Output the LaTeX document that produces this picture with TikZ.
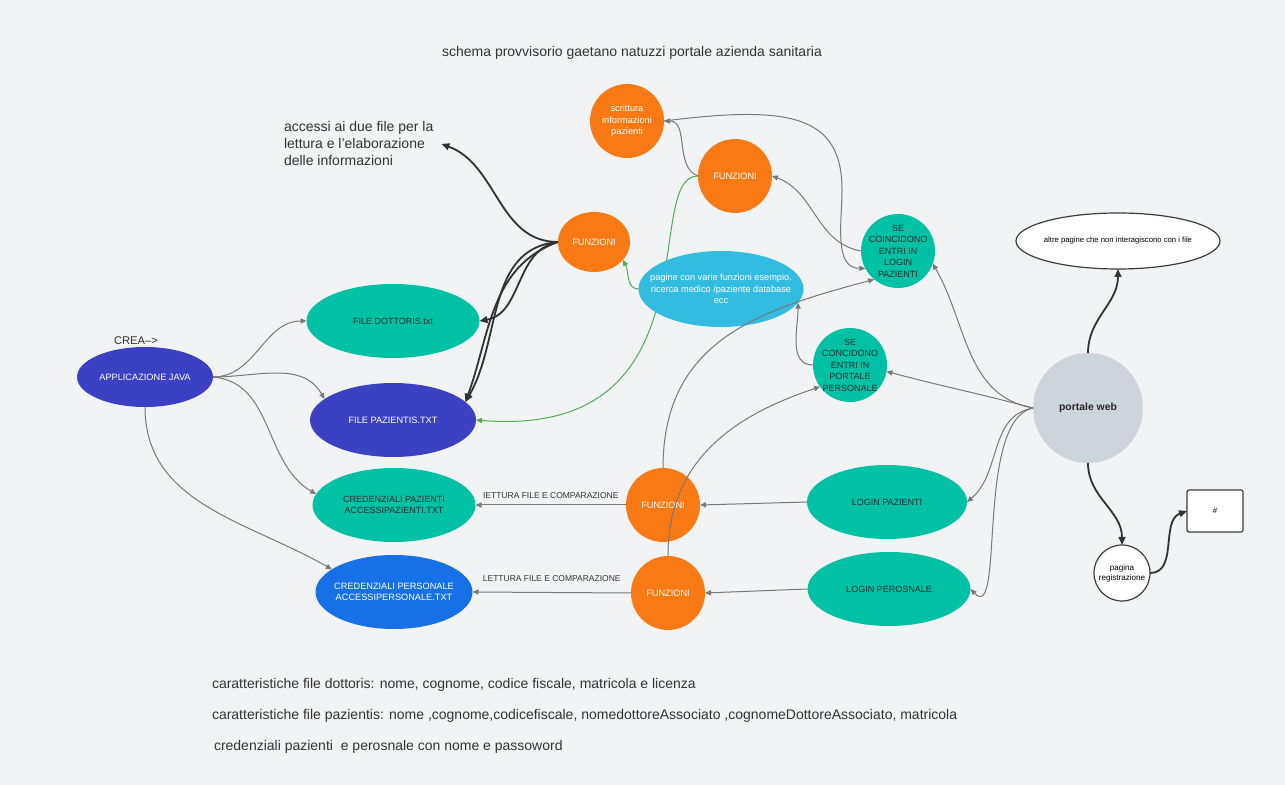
\documentclass[tikz,border=0pt]{standalone}
\usepackage{fontspec}
\setsansfont{Liberation Sans}
\usetikzlibrary{shapes.geometric,arrows.meta}
\begin{document}
\begin{tikzpicture}[x=.5pt,y=-.5pt,
  every node/.style={inner sep=0pt,outer sep=0pt},
  note/.style={text={rgb,255:red,51;green,51;blue,51},font=\sffamily\fontsize{7}{8.5}\selectfont},
  orb/.style={circle,minimum size=37pt},
  orangebox/.style={fill={rgb,255:red,249;green,122;blue,20}},
  tealbox/.style={fill={rgb,255:red,0;green,192;blue,166}},
  indigobox/.style={fill={rgb,255:red,60;green,64;blue,195}},
  bluebox/.style={fill={rgb,255:red,22;green,112;blue,230}},
  cyanbox/.style={fill={rgb,255:red,50;green,188;blue,224}},
  whitebox/.style={fill=white,draw={rgb,255:red,60;green,60;blue,60},line width=0.6pt},
  lightw/.style={text=white,align=center,font=\sffamily\fontsize{4.6}{5.7}\selectfont},
  darkw/.style={text={rgb,255:red,32;green,48;blue,48},align=center,font=\sffamily\fontsize{4.5}{5.75}\selectfont},
  edgetxt/.style={text={rgb,255:red,51;green,51;blue,51},font=\sffamily\fontsize{4.25}{5}\selectfont},
  wire/.style={draw={rgb,255:red,120;green,120;blue,120},line width=0.5pt,-{Triangle[length=3pt,width=2.6pt]}},
  heavy/.style={draw={rgb,255:red,50;green,50;blue,50},line width=0.9pt,-{Triangle[length=4pt,width=3.4pt]}},
  greenwire/.style={draw={rgb,255:red,76;green,175;blue,80},line width=0.5pt,-{Triangle[length=3pt,width=2.6pt]}}]
\path[use as bounding box,fill={rgb,255:red,242;green,243;blue,245}] (0,0) rectangle (1285,785);
\node[note,anchor=base,font=\sffamily\fontsize{7}{8.4}\selectfont] (title) at (632,57) {schema provvisorio gaetano natuzzi portale azienda sanitaria};
\node[note,align=left,anchor=west,inner sep=4pt] (acc) at (276,144) {accessi ai due file per la\\lettura e l'elaborazione\\delle informazioni};
\node[note,anchor=base,font=\sffamily\fontsize{5.6}{6.5}\selectfont] (crea) at (136,345) {CREA-->};
\node[orb,orangebox,label={[lightw]center:scrittura\\informazioni\\pazienti}] (sc) at (627,121) {};
\node[orb,orangebox,label={[lightw]center:FUNZIONI}] (ft) at (735,176) {};
\node[ellipse,orangebox,minimum width=36pt,minimum height=30pt,label={[lightw]center:FUNZIONI}] (fl) at (594,242) {};
\node[orb,tealbox,label={[darkw]center:SE\\COINCIDONO\\ENTRI IN\\LOGIN\\PAZIENTI}] (slp) at (898,251) {};
\node[ellipse,whitebox,minimum width=102pt,minimum height=28pt,label={[text=black,font=\sffamily\fontsize{3.85}{4.5}\selectfont]center:altre pagine che non interagiscono con i file}] (ap) at (1118,241) {};
\node[orb,tealbox,label={[darkw]center:SE\\CONCIDONO\\ENTRI IN\\PORTALE\\PERSONALE}] (spp) at (850,365) {};
\node[circle,minimum size=55pt,fill={rgb,255:red,206;green,212;blue,220},label={[text={rgb,255:red,40;green,40;blue,40},font=\sffamily\bfseries\fontsize{5.2}{6}\selectfont]center:portale web}] (pw) at (1088,408) {};
\node[ellipse,tealbox,minimum width=86.5pt,minimum height=37pt,label={[darkw]center:FILE DOTTORIS.txt}] (fd) at (393,321) {};
\node[ellipse,indigobox,minimum width=68pt,minimum height=30pt,label={[lightw]center:APPLICAZIONE JAVA}] (java) at (145,377) {};
\node[ellipse,indigobox,minimum width=83pt,minimum height=37pt,label={[lightw]center:FILE PAZIENTIS.TXT}] (fp) at (393,420) {};
\node[ellipse,tealbox,minimum width=81.5pt,minimum height=37pt,label={[darkw]center:CREDENZIALI PAZIENTI\\ACCESSIPAZIENTI.TXT}] (cpz) at (394,505) {};
\node[ellipse,bluebox,minimum width=78.5pt,minimum height=37pt,label={[lightw]center:CREDENZIALI PERSONALE\\ACCESSIPERSONALE.TXT}] (cps) at (394,592) {};
\node[orb,orangebox,label={[lightw]center:FUNZIONI}] (fm) at (663,505) {};
\node[orb,orangebox,label={[lightw]center:FUNZIONI}] (fb) at (668,593) {};
\node[ellipse,tealbox,minimum width=80pt,minimum height=37pt,label={[darkw]center:LOGIN PAZIENTI}] (lpz) at (887,502) {};
\node[ellipse,tealbox,minimum width=81.5pt,minimum height=37pt,label={[darkw]center:LOGIN PEROSNALE}] (lps) at (889,589) {};
\node[circle,whitebox,minimum size=28pt,label={[text=black,align=center,font=\sffamily\fontsize{4.05}{5}\selectfont]center:pagina\\registrazione}] (pr) at (1122,573) {};
\node[rectangle,whitebox,rounded corners=1pt,minimum width=28pt,minimum height=21pt,label={[text=black,font=\sffamily\fontsize{4}{5}\selectfont]center:\#}] (hs) at (1215,511) {};
\node[note,anchor=base west] (n1) at (212,689) {caratteristiche file dottoris: nome, cognome, codice fiscale, matricola e licenza};
\node[note,anchor=base west] (n2) at (212,719) {caratteristiche file pazientis: nome ,cognome,codicefiscale, nomedottoreAssociato ,cognomeDottoreAssociato, matricola};
\node[note,anchor=base west] (n3) at (214,750) {credenziali pazienti\ \ e perosnale con nome e passoword};
\draw[greenwire] (ft.west) .. controls (640,176) and (720,440) .. (fp.east);
\node[ellipse,cyanbox,minimum width=82.5pt,minimum height=38pt,label={[lightw]center:pagine con varie funzioni esempio.\\ricerca medico /paziente database\\ecc}] (pg) at (721,289) {};
\draw[greenwire] (pg.west) to[out=180,in=-60] (fl.-32);
\draw[wire] (java.east) to[out=0,in=180] (fd.west);
\draw[wire] (java.east) to[out=0,in=120] (fp.163);
\draw[wire] (java.east) to[out=-5,in=150] (cpz.172);
\draw[wire] (java.south) to[out=-90,in=150] (cps.160);
\draw[heavy] (fl.west) to[out=180,in=-20] (acc.east);
\draw[heavy] (fl.west) to[out=190,in=10] (fd.east);
\draw[heavy] (fl.west) to[out=200,in=70] (fp.14);
\draw[heavy] (fl.west) to[out=185,in=60] (fp.14);
\draw[wire] (ft.west) to[out=160,in=0] (sc.east);
\draw[wire] (sc.east) .. controls (790,105) and (842,115) .. (842,190) to[out=-90,in=180] (slp.208);
\draw[wire] (slp.west) to[out=170,in=-20] (ft.east);
\draw[wire] (pw.west) to[out=170,in=-60] (slp.-20);
\draw[wire] (pw.west) to[out=165,in=-15] (spp.-10);
\draw[wire] (pw.west) to[out=190,in=40] (lpz.east);
\draw[wire] (pw.west) .. controls (975,420) and (1005,625) .. (lps.east);
\draw[heavy] (pw.north) to[out=90,in=-90] (ap.south);
\draw[heavy] (pw.south) to[out=-90,in=90] (pr.north);
\draw[heavy] (pr.east) to[out=0,in=200] (hs.west);
\draw[wire] (spp.west) to[out=180,in=-90] (pg.-10);
\draw[wire] (lpz.west) -- (fm.east);
\draw[wire] (lps.west) -- (fb.east);
\draw[wire] (fm.west) -- node[edgetxt,above=3pt] (lt1) {IETTURA FILE E COMPARAZIONE} (cpz.east);
\draw[wire] (fb.west) -- node[edgetxt,above=5.5pt] (lt2) {LETTURA FILE E COMPARAZIONE} (cps.east);
\draw[wire] (fm.north) .. controls (663,340) and (760,310) .. (slp.230);
\draw[wire] (fb.north) .. controls (668,470) and (720,420) .. (spp.216);
\end{tikzpicture}
\end{document}
